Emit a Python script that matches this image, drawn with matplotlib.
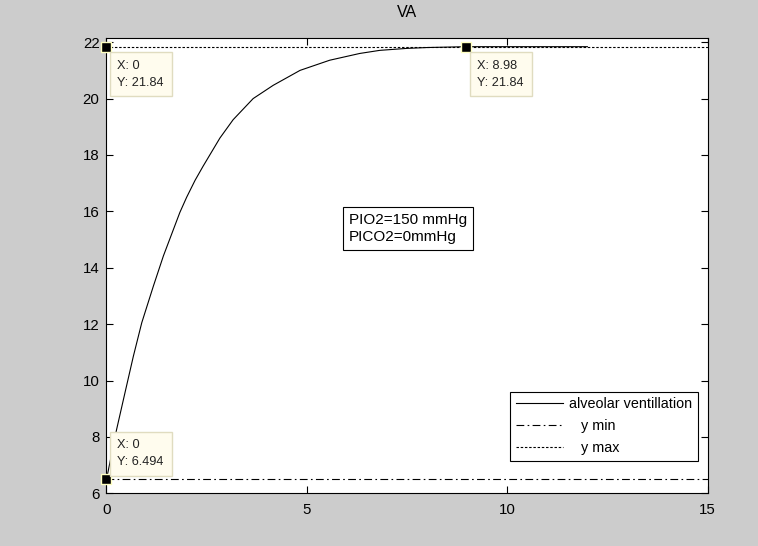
import numpy as np
import matplotlib
matplotlib.use('Agg')
import matplotlib.pyplot as plt

# values
curve_x = [0, 0.25, 0.46, 0.67, 0.88, 1.17, 1.42, 1.83, 2.0, 2.21, 2.41, 2.83, 3.16,
           3.66, 4.16, 4.83, 5.57, 6.32, 6.82, 7.5, 8.0, 8.98, 10, 12]
curve_y = [6.494, 8.25, 9.56, 10.86, 12.05, 13.35, 14.42, 15.96, 16.5, 17.1, 17.6, 18.6, 19.25,
           20.0, 20.47, 21.0, 21.36, 21.6, 21.71, 21.78, 21.81, 21.84, 21.84, 21.84]
y_min = 6.494
y_max = 21.84
x_range = [0, 15]
tips = [(0, 21.84, 'X: 0\nY: 21.84'), (8.98, 21.84, 'X: 8.98\nY: 21.84'), (0, 6.494, 'X: 0\nY: 6.494')]
legend_labels = ['alveolar ventillation', '   y min', '   y max']
note = 'PIO2=150 mmHg\nPICO2=0mmHg'

plt.rcParams['font.family'] = ['Liberation Sans', 'DejaVu Sans']

fig = plt.figure(figsize=(7.58, 5.46), dpi=100, facecolor='#cccccc')
ax = fig.add_axes([0.1405, 0.0965, 0.793, 0.834])

ax.plot(curve_x, curve_y, color='black', lw=0.8, label=legend_labels[0])
ax.plot(x_range, [y_min, y_min], color='black', lw=0.8, dashes=(7, 3, 1.5, 3), label=legend_labels[1])
ax.plot(x_range, [y_max, y_max], color='black', lw=0.8, dashes=(2.2, 1.6), label=legend_labels[2])

# data tips (the low one sits above its marker)
for tx, ty, lab in tips:
    ax.plot(tx, ty, 's', color='black', markersize=7, markeredgecolor='#ffffc0',
            markeredgewidth=1, clip_on=False, zorder=5)
    if ty < 10:
        off, va = (11, 11), 'bottom'
    else:
        off, va = (11, -13), 'top'
    ax.annotate(lab, (tx, ty), xytext=off, textcoords='offset pixels', ha='left', va=va,
                fontsize=9.2, color='#222222', linespacing=1.55, zorder=6,
                bbox=dict(boxstyle='square,pad=0.6', fc='#fffcee', ec='#e0dcc0', lw=1))

ax.text(6.05, 15.39, note, fontsize=11, ha='left', va='center', linespacing=1.3,
        bbox=dict(boxstyle='square,pad=0.4', fc='white', ec='black', lw=0.8))

leg = ax.legend(loc='lower right', bbox_to_anchor=(0.984, 0.071), borderaxespad=0,
                fancybox=False, edgecolor='black', framealpha=1, fontsize=10.4,
                handlelength=3.3, handletextpad=0.4, labelspacing=0.55, borderpad=0.4)
leg.get_frame().set_linewidth(0.8)

ax.set_xlim(0, 15)
ax.set_ylim(6, 22.15)
ax.set_xticks([0, 5, 10, 15])
ax.set_yticks(np.arange(6, 23, 2))
ax.tick_params(direction='in', top=True, right=True, length=5, width=0.8,
               labelsize=10.8)
ax.tick_params(axis='x', pad=7)
ax.tick_params(axis='y', pad=5)
for s in ax.spines.values():
    s.set_linewidth(0.8)
ax.set_title('VA', fontsize=11.5, pad=15)

fig.savefig('out.png', dpi=100, facecolor=fig.get_facecolor())
